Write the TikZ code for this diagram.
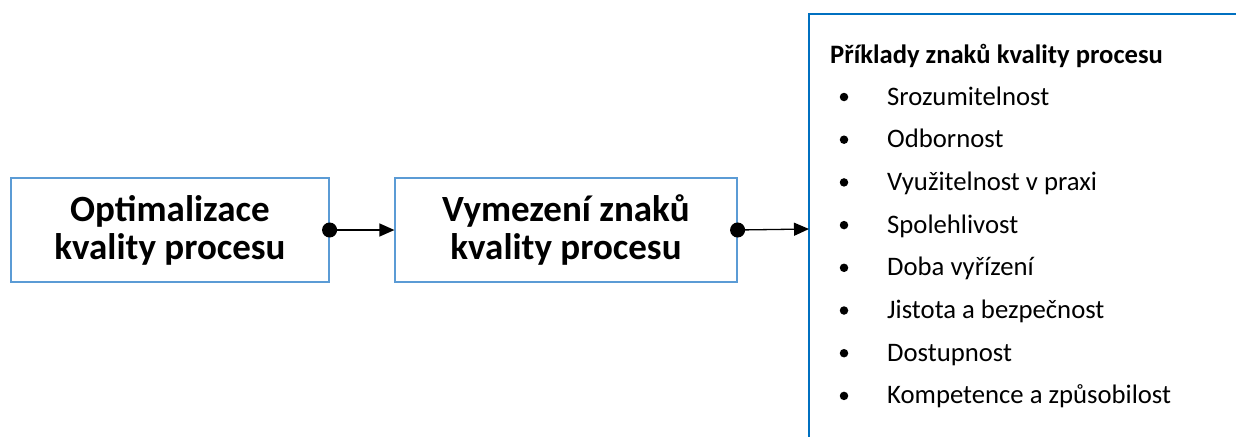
\documentclass[tikz,border=0pt]{standalone}
\usepackage{fontspec}
\setmainfont{Carlito}
\usetikzlibrary{arrows.meta}
\definecolor{boxblue}{RGB}{91,155,213}
\definecolor{panelblue}{RGB}{0,112,192}
\tikzset{
  procbox/.style={draw=boxblue, line width=1.2pt, minimum height=104pt, align=center, font=\fontsize{37}{38}\selectfont\bfseries, inner sep=0pt},
  conn/.style={line width=1.3pt, {Circle[length=15pt,width=15pt]}-{Triangle[length=15pt,width=13pt]}, shorten <=-7.5pt},
  item/.style={anchor=base west, font=\fontsize{26.7}{28}\selectfont, inner sep=0pt},
  bul/.style={circle, fill=black, inner sep=0pt, minimum size=8.5pt},
}
\begin{document}
\begin{tikzpicture}[x=1pt,y=-1pt]
\useasboundingbox (0,0) rectangle (1236,437);
\node[procbox, minimum width=318pt] (b1) at (170,230) {Optimalizace\\kvality procesu};
\node[procbox, minimum width=342pt] (b2) at (566,230) {Vymezení znaků\\kvality procesu};
\coordinate (pl) at (809,229);
\draw[panelblue, line width=1.2pt] (1236,14) -- (809,14) -- (809,437);
\draw[conn] (b1.east) -- (b2.west);
\draw[conn] (b2.east) -- (pl);
\node[item, font=\fontsize{26.6}{28}\selectfont\bfseries] (h) at (830,63) {Příklady znaků kvality procesu};
\foreach \t [count=\i] in {Srozumitelnost,Odbornost,Využitelnost v praxi,Spolehlivost,Doba vyřízení,Jistota a bezpečnost,Dostupnost,Kompetence a způsobilost}{
  \node[bul] (d\i) at (844,{97+42.7*(\i-1)}) {};
  \node[item] (t\i) at (887,{105+42.7*(\i-1)}) {\t};
}
\end{tikzpicture}
\end{document}
